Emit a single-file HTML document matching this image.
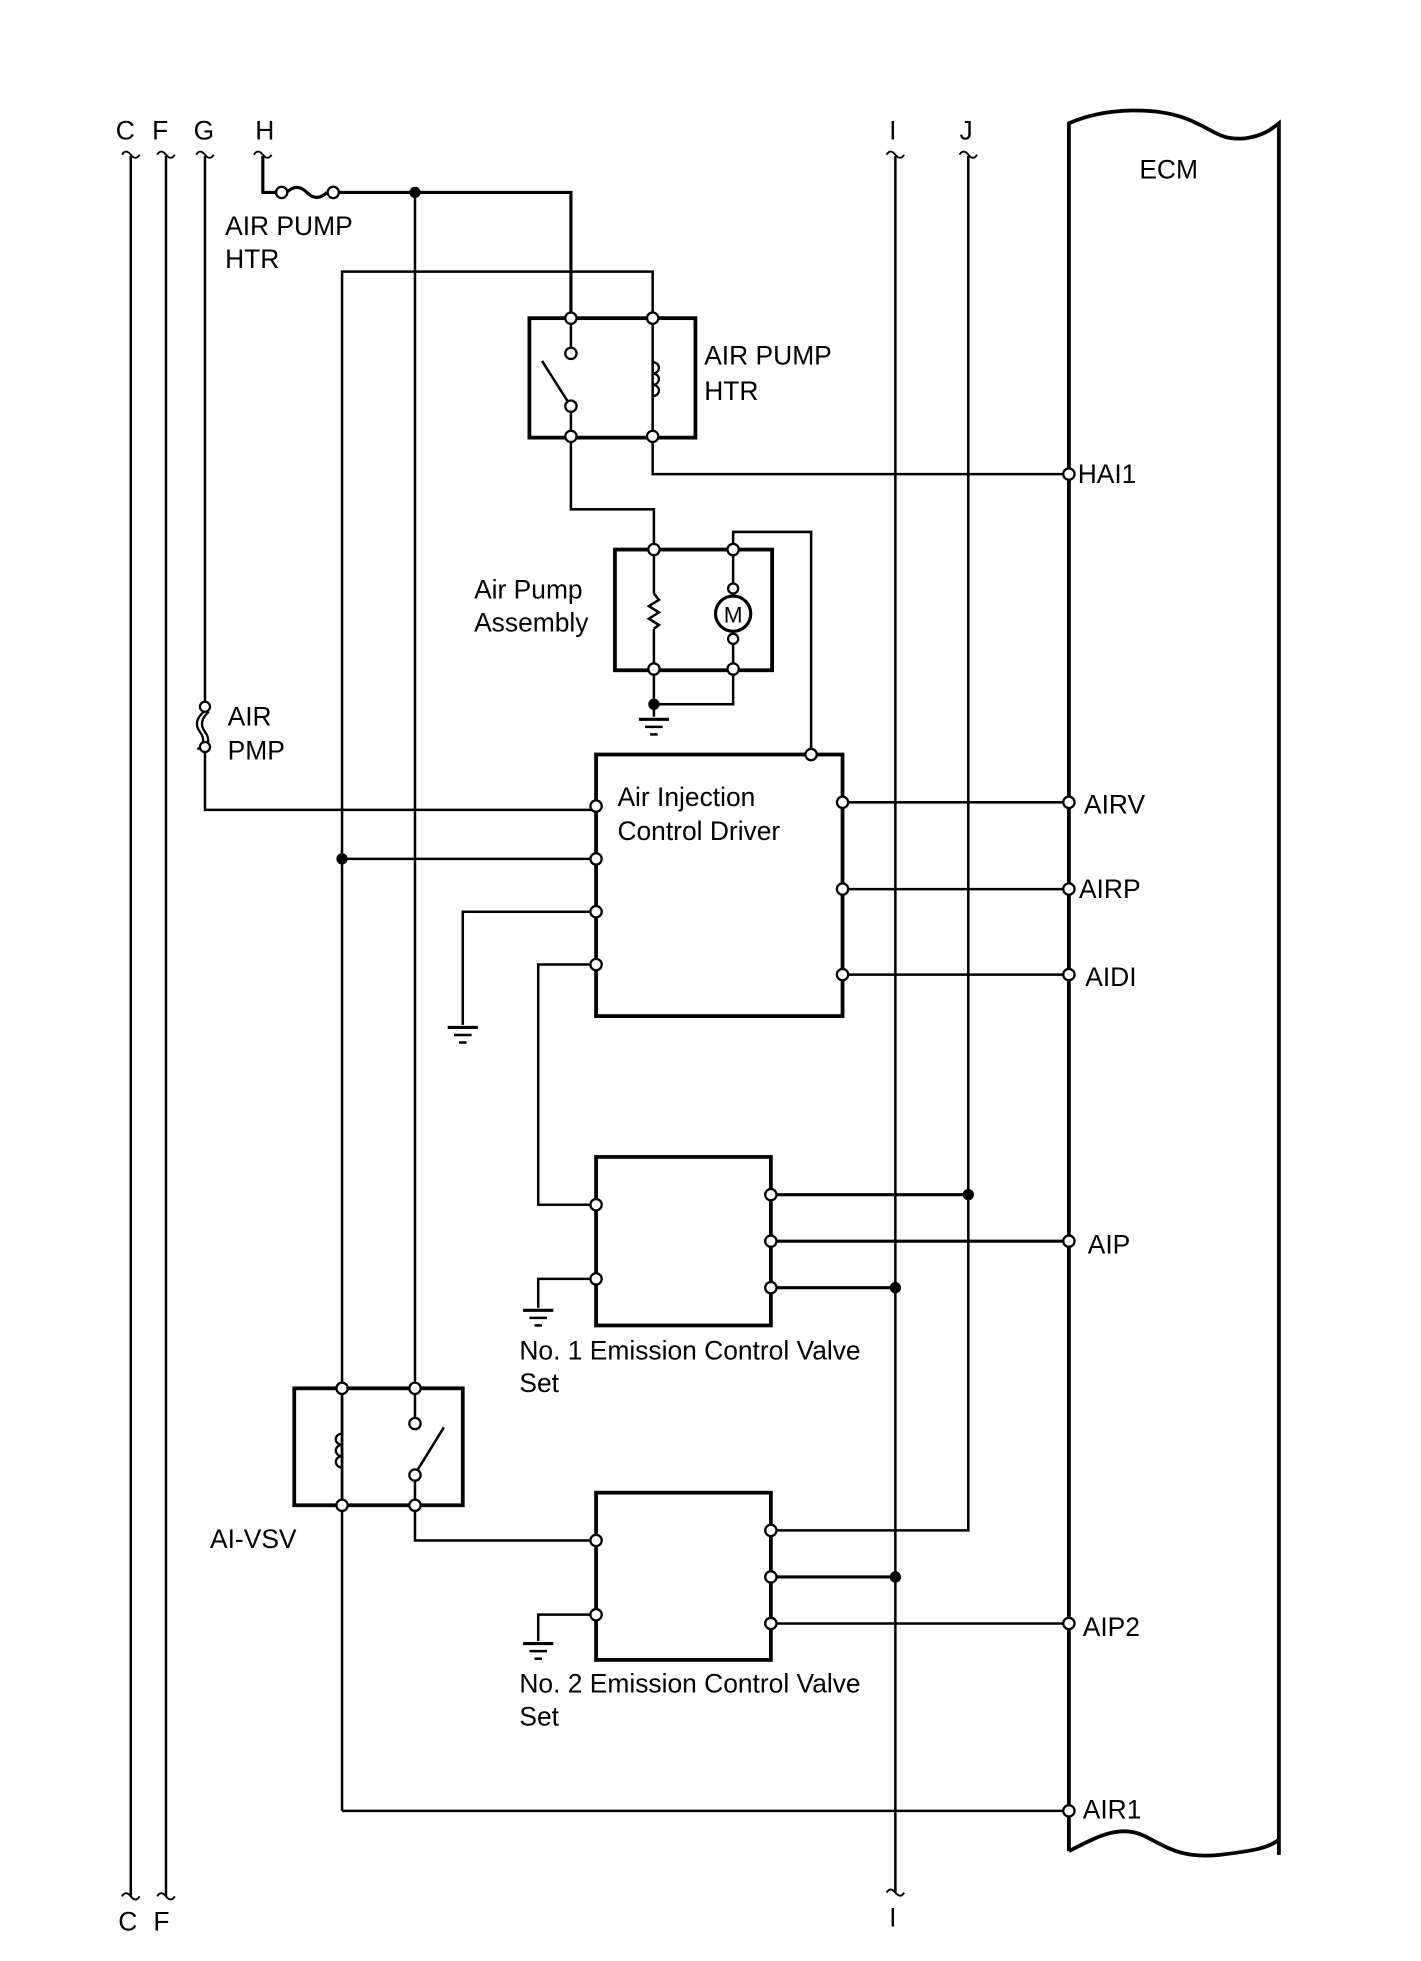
<!DOCTYPE html>
<html><head><meta charset="utf-8"><style>
html,body{margin:0;padding:0;background:#fff}
svg{display:block}
text{font-family:"Liberation Sans",Arial,sans-serif;font-size:21px;fill:#000}
</style></head><body>
<svg width="1421" height="1961" viewBox="0 0 1130 1559.4" xmlns="http://www.w3.org/2000/svg">
<defs>
<g id="gnd"><line x1="-12" y1="0" x2="12" y2="0" stroke="#000" stroke-width="2.5"/><line x1="-7" y1="6" x2="7" y2="6" stroke="#000" stroke-width="2"/><line x1="-3" y1="12" x2="3" y2="12" stroke="#000" stroke-width="2"/></g>
<path id="brk" d="M-7,0 q3,-5 7,0 q4,5 7,0" fill="none" stroke="#000" stroke-width="1.5"/>
</defs>
<g fill="none" stroke="#000" stroke-width="2">
<use href="#brk" x="104" y="123"/><use href="#brk" x="132" y="123"/><use href="#brk" x="163" y="123"/><use href="#brk" x="209" y="123"/><use href="#brk" x="712" y="123"/><use href="#brk" x="770" y="123"/>
<use href="#brk" x="104" y="1508" transform="rotate(180 104 1508)"/><use href="#brk" x="132" y="1508" transform="rotate(180 132 1508)"/><use href="#brk" x="712" y="1505" transform="rotate(180 712 1505)"/>
<line x1="104" y1="124" x2="104" y2="1508"/><line x1="132" y1="124" x2="132" y2="1508"/>
<line x1="712" y1="124" x2="712" y2="1505"/><line x1="770" y1="124" x2="770" y2="1217"/>
<polyline points="163,124 163,558"/>
<polyline points="163,598 163,644 474,644"/>
<path d="M162,566 q-9,8 -3,16 q6,8 -2,14 M166,566 q-9,8 -3,16 q6,8 -2,14" stroke-width="1.8"/>
<polyline points="209,124 209,153 224,153" stroke-width="2.5"/>
<path d="M228,153 q8,-8 16,0 q8,8 16,0" stroke-width="2.5"/>
<polyline points="268,153 454,153 454,253" stroke-width="2.5"/>
<line x1="330" y1="153" x2="330" y2="1104"/>
<polyline points="272,1440 272,216 519,216 519,253"/>
<line x1="272" y1="1440" x2="846" y2="1440"/>
<line x1="272" y1="683" x2="470" y2="683"/>
<rect x="421" y="253" width="132" height="95" stroke-width="3"/>
<line x1="454" y1="253" x2="454" y2="277"/>
<line x1="431" y1="287" x2="452" y2="320"/>
<line x1="454" y1="327" x2="454" y2="348"/>
<line x1="519" y1="253" x2="519" y2="348"/>
<path d="M519,288 a5,4.5 0 1 1 0,9 a5,4.5 0 1 1 0,9 a5,4.5 0 1 1 0,9" stroke-width="1.8"/>
<polyline points="519,348 519,377 846,377"/>
<polyline points="454,348 454,405 520,405 520,437"/>
<rect x="489" y="437" width="125" height="96" stroke-width="3"/>
<line x1="520" y1="437" x2="520" y2="472"/>
<polyline points="520,472 524,477 516,482 524,487 516,492 524,497 520,500"/>
<line x1="520" y1="500" x2="520" y2="570"/>
<polyline points="583,532 583,560 520,560"/>
<line x1="583" y1="437" x2="583" y2="532"/>
<circle cx="583" cy="488" r="14" fill="#fff" stroke-width="2.5"/>
<polyline points="583,437 583,423 645,423 645,596"/>
<rect x="474" y="600" width="196" height="208" stroke-width="3"/>
<polyline points="470,725 368,725 368,815"/>
<polyline points="470,767 428,767 428,958 470,958"/>
<line x1="674" y1="638" x2="846" y2="638"/><line x1="674" y1="707" x2="846" y2="707"/><line x1="674" y1="775" x2="846" y2="775"/>
<rect x="474" y="920" width="139" height="134" stroke-width="3"/>
<line x1="617" y1="950" x2="770" y2="950" stroke-width="2.5"/>
<line x1="617" y1="987" x2="846" y2="987" stroke-width="2.5"/>
<line x1="617" y1="1024" x2="712" y2="1024" stroke-width="2.5"/>
<polyline points="470,1017 428,1017 428,1040"/>
<rect x="234" y="1104" width="134" height="93" stroke-width="3"/>
<line x1="272" y1="1104" x2="272" y2="1197"/>
<path d="M272,1140 a5,4.5 0 1 0 0,9 a5,4.5 0 1 0 0,9 a5,4.5 0 1 0 0,9" stroke-width="1.8"/>
<line x1="330" y1="1104" x2="330" y2="1128"/>
<line x1="332" y1="1169" x2="353" y2="1135"/>
<line x1="330" y1="1177" x2="330" y2="1197"/>
<polyline points="330,1197 330,1225 470,1225"/>
<rect x="474" y="1187" width="139" height="133" stroke-width="3"/>
<polyline points="617,1217 770,1217 770,1210"/>
<line x1="617" y1="1254" x2="712" y2="1254" stroke-width="2.5"/>
<line x1="617" y1="1291" x2="846" y2="1291"/>
<polyline points="470,1284 428,1284 428,1305"/>
<path d="M850,1472 L850,98 C880,85 920,85 945,95 C965,103 970,112 990,110 C1005,108 1012,102 1017,98 L1017,1475" stroke-width="3"/>
<path d="M850,1472 C870,1462 890,1450 910,1460 C930,1470 940,1478 970,1475 C995,1472 1008,1470 1017,1463" stroke-width="3"/>
</g>
<g fill="#000">
<circle cx="330" cy="153" r="4.5"/><circle cx="272" cy="683" r="4.5"/><circle cx="520" cy="560" r="4.5"/>
<circle cx="770" cy="950" r="4.5"/><circle cx="712" cy="1024" r="4.5"/><circle cx="712" cy="1254" r="4.5"/>
</g>
<use href="#gnd" x="520" y="572"/><use href="#gnd" x="368" y="817"/><use href="#gnd" x="428" y="1042"/><use href="#gnd" x="428" y="1307"/>
<g fill="#fff" stroke="#000" stroke-width="1.8">
<circle cx="163" cy="562" r="4"/><circle cx="163" cy="594" r="4"/>
<circle cx="224" cy="153" r="4.5"/><circle cx="265" cy="153" r="4.5"/>
<circle cx="454" cy="253" r="4.5"/><circle cx="519" cy="253" r="4.5"/><circle cx="454" cy="347" r="4.5"/><circle cx="519" cy="347" r="4.5"/>
<circle cx="454" cy="281" r="4.5"/><circle cx="454" cy="323" r="4.5"/>
<circle cx="520" cy="437" r="4.5"/><circle cx="583" cy="437" r="4.5"/><circle cx="520" cy="532" r="4.5"/><circle cx="583" cy="532" r="4.5"/>
<circle cx="583" cy="468" r="4"/><circle cx="583" cy="508" r="4"/>
<circle cx="645" cy="600" r="4.5"/>
<circle cx="474" cy="641" r="4.5"/><circle cx="474" cy="683" r="4.5"/><circle cx="474" cy="725" r="4.5"/><circle cx="474" cy="767" r="4.5"/>
<circle cx="670" cy="638" r="4.5"/><circle cx="670" cy="707" r="4.5"/><circle cx="670" cy="775" r="4.5"/>
<circle cx="474" cy="958" r="4.5"/><circle cx="474" cy="1017" r="4.5"/>
<circle cx="613" cy="950" r="4.5"/><circle cx="613" cy="987" r="4.5"/><circle cx="613" cy="1024" r="4.5"/>
<circle cx="272" cy="1104" r="4.5"/><circle cx="330" cy="1104" r="4.5"/><circle cx="272" cy="1197" r="4.5"/><circle cx="330" cy="1197" r="4.5"/>
<circle cx="330" cy="1132" r="4.5"/><circle cx="330" cy="1173" r="4.5"/>
<circle cx="474" cy="1225" r="4.5"/><circle cx="474" cy="1284" r="4.5"/>
<circle cx="613" cy="1217" r="4.5"/><circle cx="613" cy="1254" r="4.5"/><circle cx="613" cy="1291" r="4.5"/>
<circle cx="850" cy="377" r="4.5"/><circle cx="850" cy="638" r="4.5"/><circle cx="850" cy="707" r="4.5"/><circle cx="850" cy="775" r="4.5"/>
<circle cx="850" cy="987" r="4.5"/><circle cx="850" cy="1291" r="4.5"/><circle cx="850" cy="1440" r="4.5"/>
</g>
<text x="583" y="495" text-anchor="middle" font-size="17" style="font-size:18px">M</text>
<g>
<text x="92" y="111">C</text><text x="121" y="111">F</text><text x="154" y="111">G</text><text x="203" y="111">H</text>
<text x="707" y="111">I</text><text x="763" y="111">J</text>
<text x="94" y="1535">C</text><text x="122" y="1535">F</text><text x="707" y="1532">I</text>
<text x="906" y="142">ECM</text>
<text x="179" y="187">AIR PUMP</text><text x="179" y="213">HTR</text>
<text x="560" y="290">AIR PUMP</text><text x="560" y="318">HTR</text>
<text x="377" y="476">Air Pump</text><text x="377" y="502">Assembly</text>
<text x="181" y="577">AIR</text><text x="181" y="604">PMP</text>
<text x="491" y="641">Air Injection</text><text x="491" y="668">Control Driver</text>
<text x="413" y="1081">No. 1 Emission Control Valve</text><text x="413" y="1107">Set</text>
<text x="413" y="1346">No. 2 Emission Control Valve</text><text x="413" y="1372">Set</text>
<text x="167" y="1231">AI-VSV</text>
<text x="857" y="384">HAI1</text><text x="862" y="647">AIRV</text><text x="858" y="714">AIRP</text><text x="863" y="784">AIDI</text>
<text x="865" y="997">AIP</text><text x="861" y="1301">AIP2</text><text x="861" y="1446">AIR1</text>
</g>
</svg>
</body></html>
